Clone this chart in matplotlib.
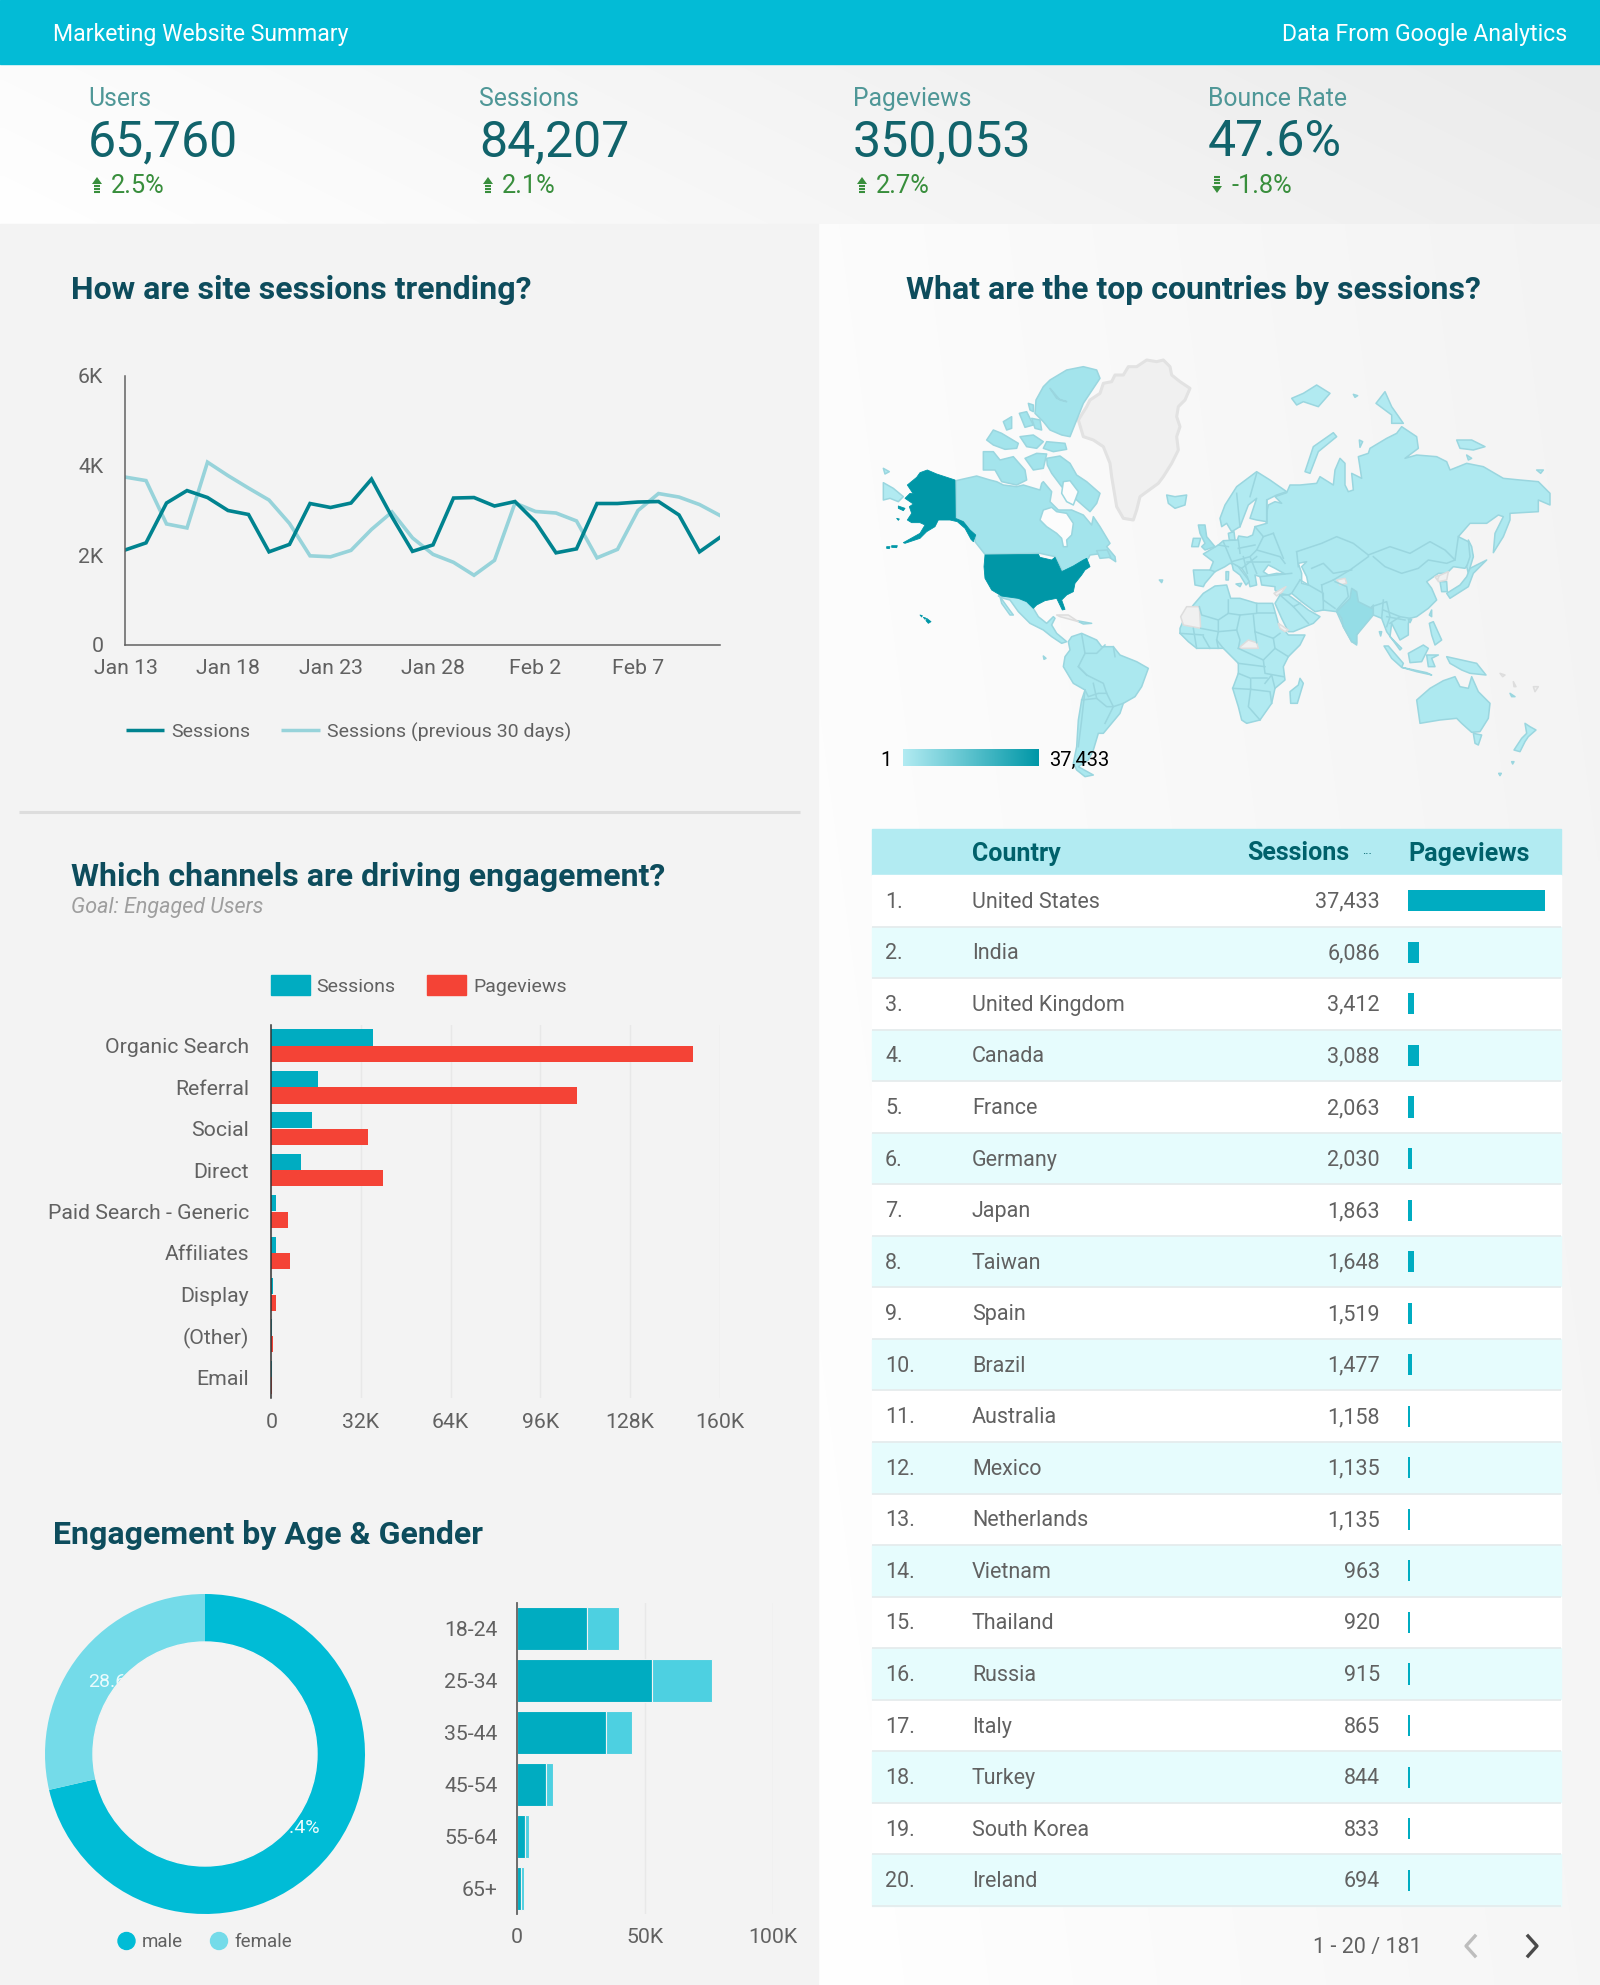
import numpy as np
import matplotlib
matplotlib.use('Agg')
import matplotlib.pyplot as plt
import matplotlib.colors as clr
from matplotlib.patches import Rectangle, Circle

plt.rcParams['font.family'] = ['Roboto', 'DejaVu Sans']

W, H = 1600, 1985

# ---- data ----
kpi_names = ['Users', 'Sessions', 'Pageviews', 'Bounce Rate']
kpi_values = ['65,760', '84,207', '350,053', '47.6%']
kpi_changes = ['2.5%', '2.1%', '2.7%', '-1.8%']

day_labels = ['Jan 13', 'Jan 18', 'Jan 23', 'Jan 28', 'Feb 2', 'Feb 7']
sessions_daily = [2122, 2278, 3167, 3444, 3289, 3000, 2911, 2078, 2244, 3156,
                  3067, 3167, 3700, 2856, 2089, 2233, 3278, 3289, 3100, 3200,
                  2744, 2056, 2144, 3156, 3156, 3189, 3200, 2900, 2078, 2400]
sessions_prev = [3744, 3667, 2700, 2611, 4078, 3778, 3500, 3233, 2711, 1989,
                 1967, 2111, 2578, 2967, 2389, 2022, 1844, 1556, 1889, 3167,
                 2978, 2944, 2767, 1944, 2133, 3000, 3378, 3300, 3133, 2889]

channels = ['Organic Search', 'Referral', 'Social', 'Direct', 'Paid Search - Generic',
            'Affiliates', 'Display', '(Other)', 'Email']
channel_sessions = [36400, 16800, 14400, 10600, 1600, 1600, 700, 200, 100]
channel_pageviews = [150700, 109000, 34600, 39700, 6000, 6600, 1600, 700, 100]

gender_names = ['male', 'female']
gender_share = [71.4, 28.6]

age_groups = ['18-24', '25-34', '35-44', '45-54', '55-64', '65+']
age_male = [27400, 52600, 34600, 11500, 3100, 1600]
age_female = [12500, 23500, 10200, 2600, 1600, 1100]

countries = ['United States', 'India', 'United Kingdom', 'Canada', 'France', 'Germany',
             'Japan', 'Taiwan', 'Spain', 'Brazil', 'Australia', 'Mexico', 'Netherlands',
             'Vietnam', 'Thailand', 'Russia', 'Italy', 'Turkey', 'South Korea', 'Ireland']
country_sessions = [37433, 6086, 3412, 3088, 2063, 2030, 1863, 1648, 1519, 1477,
                    1158, 1135, 1135, 963, 920, 915, 865, 844, 833, 694]
country_pageviews = [170000, 12900, 6800, 12900, 7000, 5000, 5000, 7000, 5000, 5000,
                     2500, 2500, 2500, 2500, 2500, 2500, 2500, 2500, 2500, 2500]

# colours
HEADER = '#03BBD6'
PANEL = '#F3F3F3'
TITLE = '#0D4C5C'
GREY = '#616161'
TEAL_BAR = '#00ACC1'
RED_BAR = '#F44336'
MAP_LOW = '#B2EBF2'
MAP_HIGH = '#0097A7'
MAP_EDGE = '#9AD6DF'
NODATA = '#F0F0F0'
NODATA_EDGE = '#DDDDDD'
GREEN = '#388E3C'


def crop(x0, y0):
    '''Traced outlines are kept in the zoom-crop coordinates they were read in'''
    def conv(pts):
        return [(x0 + x / 3, y0 + y / 3) for x, y in pts]
    return conv


Z7, Z8, Z9, Z10, Z11 = crop(870, 350), crop(950, 560), crop(1160, 430), crop(1290, 360), crop(1160, 560)

# ---- traced map outlines ----
alaska = Z7([(172, 360), (200, 372), (255, 390), (256, 505), (280, 515), (300, 540), (317, 555), (310, 575),
             (303, 568), (285, 535), (262, 515), (240, 510), (205, 510), (195, 530), (170, 545), (150, 565),
             (105, 580), (100, 578), (150, 550), (165, 525), (150, 518), (125, 518), (112, 510), (125, 490),
             (118, 470), (130, 462), (105, 445), (120, 430), (130, 432), (112, 405), (140, 382), (150, 368)])
usa_main = Z7([(345, 615), (505, 613), (510, 622), (545, 630), (555, 622), (575, 665), (610, 648), (640, 630),
               (650, 625), (660, 650), (645, 660), (635, 675), (615, 700), (610, 725), (590, 735), (575, 750),
               (585, 778), (577, 780), (560, 745), (525, 752), (500, 765), (490, 775), (470, 755), (445, 745),
               (395, 738), (365, 720), (345, 685), (342, 650)])
usa_islands = [Z7(p) for p in [[(85, 468), (105, 475), (100, 482), (85, 475)], [(80, 505), (88, 507), (85, 511)],
                               [(50, 590), (60, 590), (58, 596), (50, 595)], [(65, 587), (82, 587), (80, 593), (65, 592)],
                               [(170, 805), (183, 815), (175, 820), (168, 812)], [(150, 795), (157, 797), (155, 801)],
                               [(160, 802), (167, 804), (165, 808)]]]
canada_main = Z7([(258, 392), (320, 378), (360, 390), (380, 395), (400, 405), (440, 410), (460, 405), (510, 420),
                  (515, 400), (520, 395), (545, 425), (540, 455), (565, 480), (605, 480), (640, 495), (665, 525),
                  (670, 500), (690, 530), (720, 580), (710, 590), (735, 620), (737, 635), (700, 610), (660, 615),
                  (655, 625), (620, 650), (578, 665), (555, 620), (510, 610), (345, 613), (315, 575), (317, 555),
                  (300, 540), (280, 515), (258, 505)])
canada_islands = [Z7(p) for p in [
    [(530, 325), (570, 318), (600, 340), (620, 375), (650, 395), (690, 430), (680, 460), (660, 485), (620, 450),
     (600, 430), (575, 410), (545, 370), (532, 345)],
    [(520, 110), (540, 90), (590, 60), (640, 50), (680, 60), (690, 85), (660, 130), (640, 160), (620, 210),
     (600, 260), (575, 255), (540, 240), (520, 215), (495, 190), (498, 150)],
    [(340, 305), (370, 305), (390, 330), (430, 320), (465, 360), (470, 390), (440, 405), (395, 395), (375, 360), (340, 360)],
    [(465, 325), (500, 310), (530, 312), (520, 355), (490, 360)],
    [(350, 270), (370, 240), (395, 250), (420, 265), (445, 280), (440, 295), (405, 298), (370, 285)],
    [(450, 260), (490, 255), (520, 275), (500, 295), (470, 290)],
    [(530, 275), (585, 280), (590, 298), (550, 305), (520, 295)],
    [(400, 215), (425, 200), (425, 235), (410, 240)],
    [(448, 190), (470, 185), (490, 225), (465, 232)],
    [(485, 205), (510, 210), (515, 240), (495, 235)],
    [(475, 160), (490, 165), (490, 185), (480, 180)],
    [(680, 602), (712, 600), (722, 622), (690, 625)],
]]
greenland = Z7([(700, 100), (725, 95), (735, 75), (760, 75), (775, 50), (800, 50), (830, 30), (860, 35), (880, 30),
                (900, 50), (905, 75), (930, 95), (960, 115), (945, 150), (925, 170), (920, 200), (930, 230), (920, 260),
                (925, 300), (905, 340), (880, 380), (865, 400), (810, 440), (800, 480), (790, 510), (760, 505),
                (740, 470), (735, 440), (725, 380), (720, 340), (700, 290), (670, 270), (640, 260), (625, 210),
                (650, 170), (660, 150), (690, 130)])
mexico_central = Z7([(385, 738), (395, 738), (445, 745), (470, 755), (490, 775), (505, 800), (530, 820), (545, 805),
                     (550, 800), (555, 805), (545, 825), (560, 850), (590, 875), (575, 880), (545, 860), (520, 840),
                     (480, 820), (445, 785), (420, 750), (400, 745)])
south_america = Z8([(365, 230), (395, 220), (440, 240), (455, 260), (490, 260), (510, 285), (560, 305), (595, 325),
                    (575, 380), (555, 410), (520, 430), (510, 460), (485, 490), (460, 520), (445, 520), (430, 570),
                    (415, 600), (385, 620), (430, 645), (405, 650), (380, 630), (370, 610), (380, 560), (385, 480),
                    (395, 420), (405, 390), (370, 370), (340, 320), (345, 290), (360, 270), (355, 245)])
africa = Z11([(60, 205), (75, 170), (100, 135), (130, 100), (165, 78), (200, 75), (212, 115), (240, 115), (290, 130),
              (338, 130), (355, 190), (385, 225), (435, 225), (420, 255), (385, 290), (370, 320), (375, 360), (345, 385),
              (335, 430), (300, 480), (260, 490), (245, 480), (235, 440), (218, 385), (235, 340), (235, 310), (205, 280),
              (190, 265), (110, 265), (85, 245), (60, 220)])
arabia = Z11([(345, 130), (360, 105), (385, 105), (420, 130), (445, 150), (480, 170), (460, 190), (400, 215), (385, 215), (365, 175)])
eurasia = (Z9([(105, 465), (100, 420), (150, 420), (160, 395), (130, 372), (175, 345), (190, 332), (232, 330),
               (236, 318), (262, 322), (278, 315), (285, 290), (320, 280), (315, 270), (325, 225), (345, 215),
               (365, 220), (345, 200), (380, 188), (390, 165)])
           + Z10([(30, 375), (80, 370), (90, 350), (130, 375), (135, 330), (150, 295), (165, 310), (165, 375),
                  (175, 395), (190, 390), (185, 340), (215, 355), (205, 290), (235, 280), (240, 265), (290, 235),
                  (320, 220), (335, 200), (380, 230), (385, 265), (345, 295), (380, 285), (440, 290), (470, 305),
                  (480, 330), (530, 310), (580, 320), (640, 355), (690, 360), (745, 365), (780, 400), (780, 435),
                  (745, 420), (745, 455), (660, 460), (660, 480), (640, 530), (610, 578), (615, 520), (640, 470),
                  (625, 465), (590, 490), (540, 490), (505, 530), (535, 545), (550, 590), (525, 625), (490, 620),
                  (470, 640), (445, 640), (410, 665), (425, 685), (440, 720), (415, 745), (380, 770), (360, 775)])
           + Z11([(750, 175), (745, 190), (745, 225), (720, 240), (695, 190), (690, 230), (725, 265), (720, 270),
                  (680, 215), (665, 175), (640, 165), (635, 150), (590, 225), (590, 255), (575, 245), (550, 200),
                  (530, 155), (490, 150), (465, 155), (425, 125), (395, 100), (385, 105), (355, 100), (345, 90),
                  (345, 80), (305, 75), (300, 50), (285, 45), (290, 75), (270, 80), (262, 50), (245, 25), (225, 15),
                  (210, 10), (195, 20), (165, 35), (135, 70), (130, 80)]))
scandinavia = Z9([(180, 265), (195, 225), (230, 170), (290, 125), (330, 150), (380, 185), (350, 195), (320, 210),
                  (320, 275), (290, 270), (270, 265), (290, 205), (265, 225), (240, 290), (215, 305), (200, 280), (185, 290)])
india = Z11([(530, 155), (555, 130), (570, 115), (575, 85), (590, 95), (595, 125), (635, 145), (640, 135), (640, 165),
             (590, 225), (590, 250), (575, 245), (550, 200), (545, 175)])
uk = Z9([(115, 285), (135, 285), (140, 320), (165, 350), (135, 360), (125, 350), (135, 340), (120, 310)])
ireland = Z9([(95, 350), (100, 325), (122, 325), (115, 350)])
italy = Z9([(215, 398), (235, 410), (262, 445), (268, 455), (258, 465), (240, 435), (220, 420)])
japan = Z10([(470, 700), (510, 675), (530, 650), (540, 625), (590, 600), (550, 640), (535, 680), (480, 715)])
south_korea = Z10([(450, 665), (470, 665), (472, 695), (455, 695)])
taiwan = Z11([(808, 165), (815, 150), (815, 170)])
australia = Z11([(770, 420), (810, 385), (850, 362), (885, 350), (900, 380), (925, 385), (935, 350), (955, 395),
                 (990, 430), (985, 475), (960, 515), (935, 517), (905, 490), (890, 475), (840, 480), (780, 490)])
other_land = [
    Z7([(40, 398), (70, 415), (100, 440), (85, 455), (60, 445), (40, 450)]),
    Z7([(40, 355), (58, 365), (45, 372)]),
    Z7([(890, 435), (915, 440), (950, 435), (945, 465), (915, 475), (895, 460)]),
    Z7([(620, 812), (665, 820), (640, 822)]),
    Z7([(390, 740), (415, 775), (430, 795), (420, 795), (395, 760)]),
    Z7([(868, 690), (878, 690), (875, 698)]),
    Z7([(520, 918), (528, 925), (522, 928)]),
    Z9([(228, 462), (245, 460), (240, 470)]),
    Z9([(198, 425), (206, 425), (205, 450), (198, 450)]),
    Z9([(205, 310), (222, 305), (225, 330), (208, 330)]),
    Z10([(535, 540), (545, 560), (550, 590), (535, 640), (530, 620), (540, 590)]),
    Z10([(45, 335), (70, 260), (130, 218), (140, 230), (85, 275), (60, 340)]),
    Z10([(5, 115), (40, 100), (80, 75), (120, 100), (85, 140), (40, 125), (20, 135)]),
    Z10([(258, 130), (285, 95), (305, 140), (340, 190), (305, 190), (305, 165)]),
    Z10([(500, 240), (545, 240), (585, 260), (550, 270), (510, 265)]),
    Z10([(740, 330), (760, 330), (752, 340)]),
    Z10([(530, 285), (545, 295), (535, 300)]),
    Z10([(208, 240), (218, 245), (210, 262)]),
    Z10([(190, 103), (203, 107), (195, 112)]),
    Z11([(808, 190), (820, 185), (845, 240), (825, 255), (815, 225)]),
    Z11([(672, 258), (685, 258), (730, 310), (725, 322), (695, 295)]),
    Z11([(745, 280), (790, 255), (805, 265), (785, 305), (750, 308)]),
    Z11([(725, 322), (800, 338), (815, 345), (770, 335)]),
    Z11([(800, 285), (835, 285), (815, 295), (825, 320), (805, 320)]),
    Z11([(860, 290), (905, 300), (950, 310), (978, 345), (930, 340), (905, 330), (870, 310)]),
    Z11([(658, 215), (665, 215), (662, 228)]),
    Z11([(745, 178), (755, 178), (750, 188)]),
    Z11([(940, 520), (965, 525), (955, 555), (945, 550)]),
    Z11([(1095, 490), (1110, 500), (1128, 510), (1105, 530), (1095, 545), (1080, 575), (1062, 570), (1085, 535), (1100, 520)]),
    Z11([(420, 355), (430, 370), (412, 430), (392, 430), (390, 395), (415, 375)]),
    Z11([(1050, 400), (1065, 410), (1055, 410)]),
    Z11([(1055, 605), (1062, 605), (1058, 612)]),
    Z11([(1016, 640), (1024, 640), (1020, 647)]),
]
nodata_land = [
    Z7([(560, 795), (595, 795), (625, 815), (600, 808), (570, 800)]),
    Z11([(62, 170), (80, 140), (118, 140), (122, 205), (70, 195)]),
    Z11([(235, 265), (265, 240), (290, 248), (295, 265), (250, 265)]),
    Z11([(530, 60), (555, 55), (560, 70), (540, 75)]),
    Z11([(342, 100), (378, 80), (365, 97), (350, 108)]),
    Z11([(355, 190), (385, 210), (375, 215), (360, 205)]),
    Z10([(440, 650), (475, 635), (470, 660), (445, 665)]),
    Z11([(1120, 380), (1135, 380), (1125, 395)]),
    Z11([(1020, 340), (1035, 345), (1028, 350)]),
    Z11([(1060, 365), (1068, 380), (1062, 380)]),
    Z9([(825, 440), (838, 436), (832, 450)]),
]
water = [
    Z7([(510, 510), (520, 480), (545, 472), (560, 485), (590, 490), (610, 520), (605, 555), (590, 570), (592, 590),
        (580, 590), (575, 565), (560, 550), (530, 530)]),
    Z7([(580, 395), (600, 392), (625, 425), (610, 465), (590, 455), (575, 430)]),
    Z9([(310, 425), (325, 405), (345, 415), (375, 432), (350, 430), (325, 435)]),
    Z9([(415, 400), (440, 395), (425, 410), (440, 440), (445, 465), (425, 460), (425, 430)]),
    Z7([(540, 115), (570, 150), (590, 155), (560, 145)]),
]
borders = [Z11(p) for p in [
    [(118, 140), (125, 165), (175, 180), (205, 160), (205, 120)], [(205, 160), (240, 165), (290, 160), (290, 130)],
    [(290, 160), (345, 160)], [(175, 180), (175, 215), (230, 210), (240, 165)], [(230, 210), (240, 240), (235, 265)],
    [(122, 205), (175, 215), (170, 240), (190, 265)], [(285, 215), (280, 165)], [(285, 215), (340, 235), (360, 220)],
    [(285, 215), (290, 248)], [(340, 235), (345, 265), (385, 290)], [(345, 265), (310, 300), (315, 340), (370, 350)],
    [(235, 265), (310, 300)], [(235, 310), (315, 320)], [(218, 385), (272, 388), (272, 355), (235, 340)],
    [(272, 388), (265, 440), (300, 480)], [(272, 388), (330, 395), (335, 430)], [(100, 205), (110, 265)],
    [(130, 230), (150, 265)], [(170, 240), (175, 265)], [(60, 220), (130, 225)], [(360, 105), (400, 140), (420, 130)],
    [(400, 140), (445, 190)], [(395, 100), (420, 60)], [(420, 60), (490, 100), (490, 150)],
    [(665, 175), (670, 120)], [(690, 190), (720, 170), (750, 175)], [(670, 150), (720, 170)],
    [(315, 370), (335, 345), (345, 385)], [(275, 355), (320, 355)],
]] + [Z10(p) for p in [
    [(20, 575), (50, 565), (95, 550), (140, 530), (190, 550), (235, 585)], [(235, 590), (180, 630), (130, 660)],
    [(235, 585), (300, 560), (360, 580), (420, 545), (465, 570), (495, 600), (470, 610), (415, 600), (385, 625),
     (335, 640), (285, 620), (250, 590)],
    [(495, 600), (505, 530)], [(20, 575), (25, 620)], [(65, 625), (100, 610), (130, 640), (185, 630)], [(95, 675), (130, 660)],
    [(95, 675), (100, 720), (135, 745)], [(135, 665), (170, 680), (175, 710), (140, 750)],
    [(245, 740), (290, 725), (300, 770), (290, 800)], [(290, 770), (345, 780)],
]] + [Z9(p) for p in [
    [(190, 335), (215, 395)], [(215, 395), (270, 380), (290, 360), (310, 320), (285, 290)], [(235, 330), (240, 370)],
    [(270, 380), (290, 430)], [(290, 360), (360, 380), (375, 400)], [(340, 310), (370, 385)], [(310, 320), (340, 310)],
    [(300, 440), (395, 430)], [(245, 415), (290, 380)], [(262, 395), (330, 395)], [(150, 420), (165, 425)],
    [(320, 210), (320, 280)], [(230, 190), (240, 290)], [(290, 130), (270, 200)], [(235, 355), (285, 345)],
    [(250, 380), (262, 430)], [(175, 345), (205, 350)],
]] + [Z8(p) for p in [
    [(395, 222), (405, 280), (385, 320), (410, 345)], [(405, 280), (440, 280), (465, 255)],
    [(385, 320), (410, 345), (460, 370), (470, 400), (490, 440), (520, 430)], [(405, 390), (415, 410), (445, 400), (470, 400)],
    [(405, 390), (395, 480), (385, 560)], [(395, 420), (440, 415), (470, 440), (490, 440), (465, 490)],
    [(440, 415), (430, 370)], [(490, 260), (495, 290)],
]]

map_cmap = clr.LinearSegmentedColormap.from_list('map', [MAP_LOW, MAP_HIGH])
map_norm = clr.Normalize(1, 37433)


def map_color(name=None):
    '''Colour of a country from its sessions, small value for the ones off the table'''
    value = country_sessions[countries.index(name)] if name in countries else 300
    return map_cmap(map_norm(value))


def px_axes(fig, left, top, right, bottom):
    '''Axes placed with picture pixels, transparent so panels show through'''
    ax = fig.add_axes([left / W, 1 - bottom / H, (right - left) / W, (bottom - top) / H])
    ax.set_facecolor('none')
    return ax


def gradient(ax, extent, start, end, tilt=0.0):
    '''Soft diagonal background gradient'''
    x, y = np.meshgrid(np.linspace(0, 1, 200), np.linspace(0, 1, 200))
    t = np.clip((x + tilt * (1 - y)) / (1 + tilt), 0, 1)
    c0, c1 = np.array(clr.to_rgb(start)), np.array(clr.to_rgb(end))
    img = c0 + (c1 - c0) * t[..., None]
    ax.imshow(img, extent=extent, aspect='auto', origin='upper', zorder=0, interpolation='bilinear')


def draw_backgrounds(ax):
    ax.add_patch(Rectangle((0, 224), 818, H, color=PANEL, zorder=0.5))
    gradient(ax, (818, W, H, 224), '#FFFFFF', '#F3F3F3', tilt=0.3)
    gradient(ax, (0, W, 224, 64), '#FFFFFF', '#EBEBEB', tilt=0.2)
    ax.add_patch(Rectangle((0, 0), W, 64, color=HEADER, zorder=1))
    ax.text(53, 35, 'Marketing Website Summary', color='white', fontsize=16.6, va='center', zorder=2)
    ax.text(1567, 35, 'Data From Google Analytics', color='white', fontsize=16.6, va='center', ha='right', zorder=2)
    ax.plot([18.5, 800], [812, 812], color='#DDDDDD', lw=2.2, zorder=1, solid_capstyle='butt')


def draw_arrow(ax, x, y, up=True):
    '''Small striped change arrow next to the KPI delta'''
    s = 1 if up else -1
    ax.fill([x - 5, x + 5, x], [y - s, y - s, y - s * 8], color=GREEN, zorder=3, lw=0)
    for d in (1.5, 4.5, 7.5):
        ax.plot([x - 2.8, x + 2.8], [y + s * d, y + s * d], color=GREEN, lw=1.5, zorder=3, solid_capstyle='butt')


def draw_kpis(ax):
    lefts = [88, 479, 853, 1208]
    for x, name, value, change in zip(lefts, kpi_names, kpi_values, kpi_changes):
        ax.text(x, 99, name, color='#4F9797', fontsize=17.8, va='center', zorder=3)
        ax.text(x, 142, value, color='#11636B', fontsize=36, va='center', zorder=3)
        draw_arrow(ax, x + 9, 185, up=not change.startswith('-'))
        ax.text(x + 23, 186, change, color=GREEN, fontsize=18.3, va='center', zorder=3)


def draw_titles(ax):
    kw = dict(color=TITLE, fontsize=23, fontweight='bold', va='center', zorder=3)
    ax.text(71, 290, 'How are site sessions trending?', **kw)
    ax.text(906, 290, 'What are the top countries by sessions?', **kw)
    ax.text(71, 877, 'Which channels are driving engagement?', **kw)
    ax.text(53, 1535, 'Engagement by Age & Gender', **kw)
    ax.text(71, 908, 'Goal: Engaged Users', color='#9E9E9E', fontsize=15.5, style='italic', va='center', zorder=3)


def draw_map(ax):
    '''Region map from the traced outlines, filled through the sessions scale'''
    def land(pts, color, edge=MAP_EDGE, lw=1.1):
        xs, ys = zip(*pts)
        ax.fill(xs, ys, facecolor=color, edgecolor=edge, lw=lw, zorder=2, joinstyle='round')

    land(greenland, NODATA, '#E2E2E2', lw=2.2)
    land(eurasia, map_color('Russia'))
    land(scandinavia, map_color())
    land(africa, map_color())
    land(arabia, map_color())
    land(south_america, map_color('Brazil'))
    land(canada_main, map_color('Canada'))
    for p in canada_islands:
        land(p, map_color('Canada'))
    land(mexico_central, map_color('Mexico'))
    for p in other_land:
        land(p, map_color())
    land(india, map_color('India'))
    land(uk, map_color('United Kingdom'))
    land(ireland, map_color('Ireland'))
    land(italy, map_color('Italy'))
    land(japan, map_color('Japan'))
    land(south_korea, map_color('South Korea'))
    land(taiwan, map_color('Taiwan'))
    land(australia, map_color('Australia'))
    for p in nodata_land:
        land(p, NODATA, NODATA_EDGE)
    for p in water:
        land(p, '#FCFCFC')
    for b in borders:
        xs, ys = zip(*b)
        ax.plot(xs, ys, color=MAP_EDGE, lw=1.1, zorder=2.1)
    us_color = map_color('United States')
    land(alaska, us_color, us_color, lw=0.6)
    land(usa_main, us_color, us_color, lw=0.6)
    for p in usa_islands:
        land(p, us_color, us_color, lw=0.6)

    # scale
    bar = np.linspace(0, 1, 256)[None, :]
    ax.imshow(bar, cmap=map_cmap, extent=(903, 1038.5, 766, 749), aspect='auto', zorder=3)
    ax.text(886, 760, '1', color='black', fontsize=14.5, ha='center', va='center', zorder=3)
    ax.text(1049, 760, '37,433', color='black', fontsize=14.5, va='center', zorder=3)


def draw_table(ax):
    top, row_h = 875, 51.55
    left, right = 872, 1561
    ax.add_patch(Rectangle((left, 829), right - left, top - 829, color=MAP_LOW, zorder=3))
    head = dict(color='#00616B', fontsize=18, fontweight='bold', va='center', zorder=4)
    ax.text(972, 853.5, 'Country', **head)
    ax.text(1349, 853.5, 'Sessions', ha='right', **head)
    ax.text(1408, 853.5, 'Pageviews', **head)
    ax.text(1367, 855, '···', color='#00616B', fontsize=9, ha='center', va='center', zorder=4)
    body = dict(color=GREY, fontsize=15.5, va='center', zorder=4)
    for i, (name, value) in enumerate(zip(countries, country_sessions)):
        y = top + row_h * i
        ax.add_patch(Rectangle((left, y), right - left, row_h, color='white' if i % 2 == 0 else '#E6FCFD', zorder=3))
        ax.plot([left, right], [y + row_h, y + row_h], color='#E4EAEB', lw=1.2, zorder=3.5, solid_capstyle='butt')
        ax.text(885, y + row_h / 2 + 1.5, f'{i + 1}.', **body)
        ax.text(972, y + row_h / 2 + 1.5, name, **body)
        ax.text(1380, y + row_h / 2 + 1.5, f'{value:,}', ha='right', **body)
    ax.text(1313, 1948, '1 - 20 / 181', color=GREY, fontsize=15.5, va='center', zorder=4)
    ax.plot([1475, 1466, 1475], [1936, 1946, 1956], color='#BDBDBD', lw=2.4, zorder=4)
    ax.plot([1528, 1537, 1528], [1936, 1946, 1956], color='#4A4A4A', lw=2.4, zorder=4)


def draw_legend_row(ax):
    # line chart
    ax.plot([125.5, 164], [730, 730], color='#00838F', lw=2.5, zorder=3, solid_capstyle='butt')
    ax.text(171, 732, 'Sessions', color=GREY, fontsize=14, va='center', zorder=3)
    ax.plot([281, 320], [730, 730], color='#97D3DA', lw=2.5, zorder=3, solid_capstyle='butt')
    ax.text(327, 732, 'Sessions (previous 30 days)', color=GREY, fontsize=14, va='center', zorder=3)
    # channels
    ax.add_patch(Rectangle((271, 975), 39, 20, color=TEAL_BAR, zorder=3))
    ax.text(316, 987, 'Sessions', color=GREY, fontsize=14, va='center', zorder=3)
    ax.add_patch(Rectangle((427, 975), 39, 20, color=RED_BAR, zorder=3))
    ax.text(473, 987, 'Pageviews', color=GREY, fontsize=14, va='center', zorder=3)
    # gender
    ax.add_patch(Circle((126.5, 1941), 8.5, color='#00BCD6', zorder=3))
    ax.text(142, 1942, gender_names[0], color=GREY, fontsize=13.5, va='center', zorder=3)
    ax.add_patch(Circle((219, 1941), 8.5, color='#74DBE9', zorder=3))
    ax.text(234, 1942, gender_names[1], color=GREY, fontsize=13.5, va='center', zorder=3)


def style_ticks(ax, size=15.3):
    ax.tick_params(length=0, labelsize=size, labelcolor=GREY)


def draw_trend(fig):
    ax = px_axes(fig, 125.5, 376, 720, 645)
    days = np.arange(len(sessions_daily))
    ax.plot(days, sessions_prev, color='#97D3DA', lw=2.6, solid_joinstyle='miter')
    ax.plot(days, sessions_daily, color='#00838F', lw=2.6, solid_joinstyle='miter')
    ax.set_xlim(0, 29)
    ax.set_ylim(0, 6000)
    ax.set_yticks([0, 2000, 4000, 6000], ['0', '2K', '4K', '6K'])
    ax.set_xticks(np.arange(0, 30, 5), day_labels)
    style_ticks(ax)
    ax.tick_params(axis='y', pad=16)
    ax.tick_params(axis='x', pad=10)
    for s in ('top', 'right'):
        ax.spines[s].set_visible(False)
    for s in ('left', 'bottom'):
        ax.spines[s].set_color('#616161')
        ax.spines[s].set_linewidth(1.1)


def draw_channels(fig):
    ax = px_axes(fig, 271.4, 1025, 719.5, 1398)
    y = np.arange(len(channels))
    ax.barh(y - 0.2, channel_sessions, height=0.39, color=TEAL_BAR, zorder=2)
    ax.barh(y + 0.2, channel_pageviews, height=0.39, color=RED_BAR, zorder=2)
    ax.set_xlim(0, 160000)
    ax.set_ylim(len(channels) - 0.5, -0.5)
    ax.set_yticks(y, channels)
    ticks = [0, 32000, 64000, 96000, 128000, 160000]
    ax.set_xticks(ticks, ['0', '32K', '64K', '96K', '128K', '160K'])
    ax.grid(axis='x', color='#E8E8E8', lw=1, zorder=0)
    style_ticks(ax)
    ax.tick_params(axis='y', pad=16)
    ax.tick_params(axis='x', pad=11)
    for s in ('top', 'right', 'bottom'):
        ax.spines[s].set_visible(False)
    ax.spines['left'].set_color('#333333')
    ax.spines['left'].set_linewidth(1.1)


def draw_donut(fig):
    ax = px_axes(fig, 45, 1594, 365, 1914)
    ax.pie(gender_share, colors=['#00BCD6', '#74DBE9'], startangle=90, counterclock=False, radius=1)
    ax.set_xlim(-1, 1)
    ax.set_ylim(-1, 1)
    # labels sit under the hole, so the hole cuts them like in the report
    ax.text(-0.728, 0.45, f'{gender_share[1]}%', color='#EAFBFD', fontsize=14, va='center', zorder=3)
    ax.text(0.72, -0.4625, f'{gender_share[0]}%', color='#EAFBFD', fontsize=14, va='center', ha='right', zorder=3)
    ax.add_patch(Circle((0, 0), 0.70, color=PANEL, zorder=4))


def draw_ages(fig):
    ax = px_axes(fig, 517, 1603, 773, 1914)
    y = np.arange(len(age_groups))
    ax.barh(y, age_male, height=0.83, color=TEAL_BAR, edgecolor='#F3F3F3', lw=0.8, zorder=2)
    ax.barh(y, age_female, left=age_male, height=0.83, color='#4DD0E1', edgecolor='#F3F3F3', lw=0.8, zorder=2)
    ax.set_xlim(0, 100000)
    ax.set_ylim(len(age_groups) - 0.5, -0.5)
    ax.set_yticks(y, age_groups)
    ax.set_xticks([0, 50000, 100000], ['0', '50K', '100K'])
    ax.grid(axis='x', color='#E8E8E8', lw=1, zorder=0)
    style_ticks(ax)
    ax.tick_params(axis='y', pad=14)
    ax.tick_params(axis='x', pad=10)
    for s in ('top', 'right', 'bottom'):
        ax.spines[s].set_visible(False)
    ax.spines['left'].set_color('#616161')
    ax.spines['left'].set_linewidth(1.3)


def draw_pageview_bars(fig):
    ax = px_axes(fig, 1408.4, 875, 1545, 1906)
    y = np.arange(len(countries)) + 0.5
    ax.barh(y, country_pageviews, height=0.41, color=TEAL_BAR)
    ax.set_xlim(0, max(country_pageviews))
    ax.set_ylim(len(countries), 0)
    ax.set_axis_off()


def main():
    fig = plt.figure(figsize=(W / 100, H / 100), dpi=100, facecolor='white')
    bg = fig.add_axes([0, 0, 1, 1])
    draw_backgrounds(bg)
    draw_kpis(bg)
    draw_titles(bg)
    draw_map(bg)
    draw_table(bg)
    draw_legend_row(bg)
    bg.set_xlim(0, W)
    bg.set_ylim(H, 0)
    bg.set_axis_off()

    draw_trend(fig)
    draw_channels(fig)
    draw_donut(fig)
    draw_ages(fig)
    draw_pageview_bars(fig)

    fig.savefig('out.png', dpi=100)


if __name__ == '__main__':
    main()
